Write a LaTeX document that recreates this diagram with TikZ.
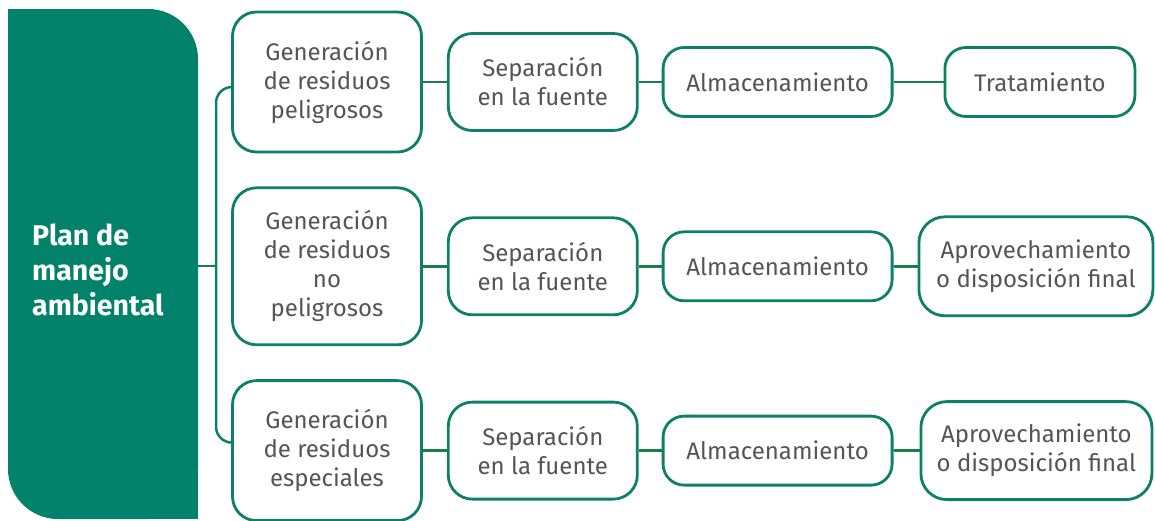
\documentclass[tikz,border=0pt]{standalone}
\usepackage{fontspec}
\setmainfont{Fira Sans}
\usepackage{tikz}
\usetikzlibrary{positioning,calc}
\definecolor{panelgreen}{RGB}{2,130,106}
\definecolor{boxline}{RGB}{14,128,104}
\definecolor{linkgreen}{RGB}{22,128,70}
\definecolor{textgray}{RGB}{85,85,85}

\begin{document}
\begin{tikzpicture}[
    x=1pt, y=-1pt,
    box/.style={rectangle, draw=boxline, line width=2.8pt, fill=white,
                rounded corners=24pt, align=center, inner sep=0pt,
                text=textgray, font=\fontsize{24}{29}\selectfont},
    genbox/.style={box, minimum width=189pt, minimum height=140pt},
    sepbox/.style={box, minimum width=189pt, minimum height=97pt},
    almbox/.style={box, minimum width=229pt, minimum height=69pt, rounded corners=21pt},
    endbox/.style={box, minimum height=98pt, rounded corners=26pt},
    link/.style={draw=linkgreen, line width=2.5pt},
    bracket/.style={draw=boxline, line width=2.5pt, rounded corners=16pt},
    title/.style={text=white, align=left, inner sep=0pt,
                  font=\bfseries\fontsize{28.5}{35}\selectfont}
]
\useasboundingbox[fill=white] (0,0) rectangle (1155,520);
\fill[panelgreen, rounded corners=50pt] (8,9) rectangle (198,519);
\fill[panelgreen] (8,9) rectangle (100,100);
\fill[panelgreen] (100,300) rectangle (198,519);
\node[title, anchor=west] (plan) at (32,270) {Plan de\\manejo\\ambiental};
\coordinate (pe) at (198,266);
\coordinate (bx) at (216,266);

\node[genbox] (g1) at (327,82) {Generación\\de residuos\\peligrosos};
\node[genbox, minimum height=157pt, below=33pt of g1] (g2) {Generación\\de residuos\\no\\peligrosos};
\node[genbox, below=33pt of g2] (g3) {Generación\\de residuos\\especiales};

\node[sepbox, right=24pt of g1] (s1) {Separación\\en la fuente};
\node[sepbox, right=24pt of g2] (s2) {Separación\\en la fuente};
\node[sepbox, right=24pt of g3] (s3) {Separación\\en la fuente};

\node[almbox, right=23pt of s1] (a1) {Almacenamiento};
\node[almbox, right=23pt of s2] (a2) {Almacenamiento};
\node[almbox, right=23pt of s3] (a3) {Almacenamiento};

\node[almbox, minimum width=190pt, right=50pt of a1] (t1) {Tratamiento};
\node[endbox, minimum width=234pt, minimum height=99pt, right=24pt of a2] (d2) {Aprovechamiento\\o disposición final};
\node[endbox, minimum width=231pt, right=26pt of a3] (d3) {Aprovechamiento\\o disposición final};

\draw[link] (pe) -- (bx);
\draw[bracket] ($(g1.west)+(0,5)$) -| (bx) |- ($(g3.west)+(0,-8)$);
\draw[link] (g1.east) -- (s1.west);
\draw[link] (s1.east) -- (a1.west);
\draw[link] (a1.east) -- (t1.west);
\draw[link] (g2.east) -- (s2.west);
\draw[link] (s2.east) -- (a2.west);
\draw[link] (a2.east) -- (d2.west);
\draw[link] (g3.east) -- (s3.west);
\draw[link] (s3.east) -- (a3.west);
\draw[link] (a3.east) -- (d3.west);
\end{tikzpicture}
\end{document}
